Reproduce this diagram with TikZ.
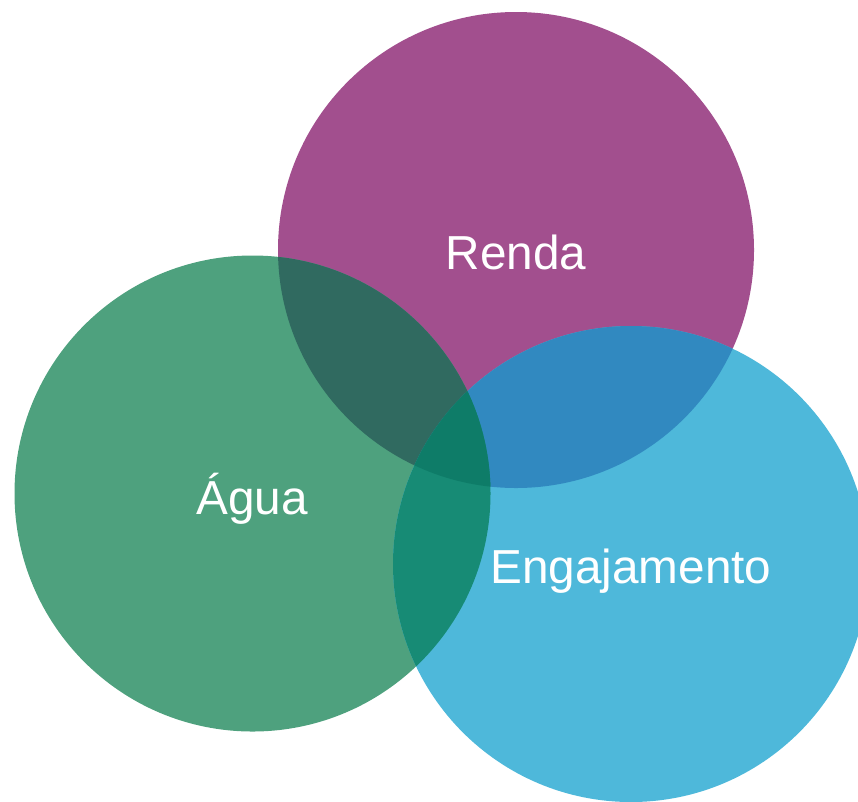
\documentclass[tikz,border=0pt]{standalone}
\usepackage{fontspec}
\setmainfont{Liberation Sans}
\definecolor{cRenda}{HTML}{A24F8E}
\definecolor{cAgua}{HTML}{4EA17E}
\definecolor{cEng}{HTML}{4EB8DA}
\definecolor{cAR}{HTML}{306A60}
\definecolor{cER}{HTML}{3189C0}
\definecolor{cAE}{HTML}{178B75}
\definecolor{cAER}{HTML}{0E7C68}
\begin{document}
\begin{tikzpicture}[x=1pt,y=-1pt,
  lbl/.style={text=white,font=\fontsize{47.7}{50}\selectfont,anchor=base,inner sep=0pt}]
\useasboundingbox (0,0) rectangle (858,801);
\clip (0,0) rectangle (858,801);
\def\R{238}
\coordinate (cr) at (516,250);
\coordinate (ca) at (252.5,493.5);
\coordinate (ce) at (631,564);
\fill[cRenda] (cr) circle[radius=\R];
\fill[cAgua] (ca) circle[radius=\R];
\fill[cEng] (ce) circle[radius=\R];
\begin{scope}
  \clip (cr) circle[radius=\R];
  \fill[cAR] (ca) circle[radius=\R];
  \fill[cER] (ce) circle[radius=\R];
\end{scope}
\begin{scope}
  \clip (ca) circle[radius=\R];
  \fill[cAE] (ce) circle[radius=\R];
  \clip (cr) circle[radius=\R];
  \fill[cAER] (ce) circle[radius=\R];
\end{scope}
\node[lbl] (renda) at (516,269) {Renda};
\node[lbl] (agua) at (252,514) {Água};
\node[lbl] (eng) at (631,583) {Engajamento};
\end{tikzpicture}
\end{document}
